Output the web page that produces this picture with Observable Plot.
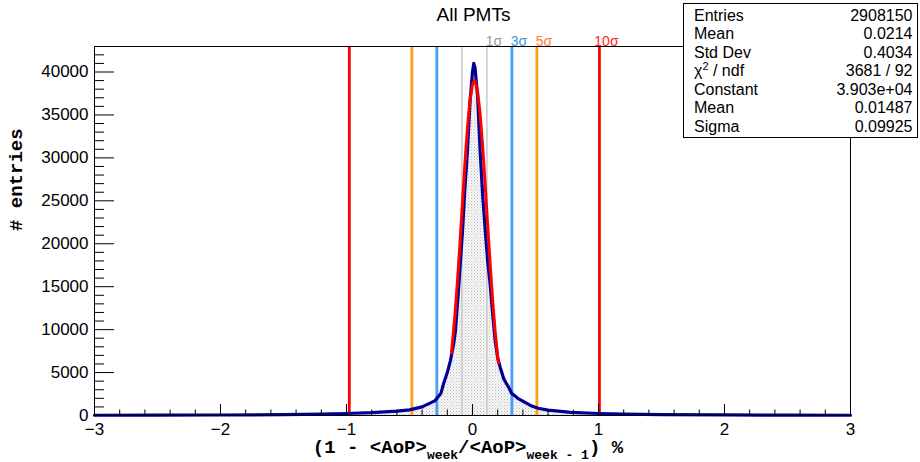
<!DOCTYPE html>
<html><head><meta charset="utf-8">
<script src="https://cdn.jsdelivr.net/npm/d3@7"></script>
<script src="https://cdn.jsdelivr.net/npm/@observablehq/plot@0.6"></script>
<style>body{margin:0;background:#fff}</style>
</head><body><div id="chart"></div>
<script>
// ---- data ----
const histX = [-3.0,-2.5,-2.0,-1.5,-1.2,-1.0,-0.8,-0.6,-0.5,-0.4,-0.3,-0.25,-0.23,-0.2,-0.175,-0.15,-0.135,-0.11,-0.08,-0.06,-0.04,-0.02,0.0,0.01,0.02,0.04,0.06,0.08,0.10,0.12,0.14,0.16,0.18,0.20,0.22,0.25,0.29,0.31,0.36,0.46,0.52,0.6,0.78,1.0,1.2,1.5,2.0,2.5,3.0];
const histCounts = [30,40,60,100,160,230,330,500,650,1000,1700,2600,3700,5000,6400,8300,9900,14900,21300,26500,30800,36500,40000,41000,40500,37300,31000,25800,21800,18000,15300,11800,8700,6700,5600,4200,3200,2600,2000,1170,850,620,360,230,160,110,65,45,30];
const fitX = [-0.167,-0.14,-0.12,-0.10,-0.08,-0.06,-0.04,-0.02,0,0.015,0.02,0.04,0.06,0.08,0.10,0.12,0.14,0.16,0.18,0.20,0.206];
const fitCounts = [7290,11560,15500,19970,24710,29350,33490,36700,38590,39030,38980,37800,35190,31470,27010,22270,17630,13400,9780,6860,6110];
const fitMean = 0.01487, fitSigma = 0.09925;
const sigmaLevels = [1,3,5,10];
const sigmaNames = ["1σ","3σ","5σ","10σ"];
const statsLabels = ["Entries","Mean","Std Dev","χ2 / ndf","Constant","Mean","Sigma"];
const statsValues = ["2908150","0.0214","0.4034","3681 / 92","3.903e+04","0.01487","0.09925"];
const xTicks = [-3,-2,-1,0,1,2,3];
const yTicks = [0,5000,10000,15000,20000,25000,30000,35000,40000];
const titleText = "All PMTs";
const yTitle = "# entries";

// ---- styling ----
const W = 920, H = 462, mL = 94, mR = 70, mT = 46, mB = 47;
const fw = W - mL - mR, fh = H - mT - mB;
const lineColors = ["#c8c8c8", "#46a0f8", "#ff9d1c", "#ff0000"];
const lineWidths = [1.5, 2.8, 2.8, 2.8];
const labelColors = ["#999999", "#3d98e0", "#ff7a4a", "#ff2418"];
const mono = "'Liberation Mono', 'DejaVu Sans Mono', monospace";
const sans = "'Liberation Sans', Arial, Helvetica, sans-serif";

const hist = histX.map((x, i) => ({x, y: histCounts[i]}));
const fit = fitX.map((x, i) => ({x, y: fitCounts[i]}));
const xMinor = d3.range(-30, 31, 2).filter(v => v % 10 !== 0).map(v => v / 10);
const yMinor = d3.range(1000, 43000, 1000).filter(v => v % 5000 !== 0);

const ruleMarks = sigmaLevels.map((n, i) =>
  Plot.ruleX([fitMean - n * fitSigma, fitMean + n * fitSigma], {x: d => d, stroke: lineColors[i], strokeWidth: lineWidths[i]}));
const sigmaLabelData = sigmaLevels.map((n, i) => ({x: fitMean + n * fitSigma, name: sigmaNames[i], color: labelColors[i]}));

const chart = Plot.plot({
  width: W, height: H,
  marginLeft: mL, marginRight: mR, marginTop: mT, marginBottom: mB,
  x: {domain: [-3, 3]},
  y: {domain: [0, 42970]},
  color: {type: "identity"},
  style: {fontFamily: sans, fontSize: "17px", background: "#fff", color: "#000", overflow: "visible"},
  marks: [
    Plot.areaY(hist, {x: "x", y: "y", fill: "url(#dots)"}),
    ...ruleMarks,
    Plot.line(hist, {x: "x", y: "y", stroke: "#000099", strokeWidth: 3.2}),
    Plot.line(fit, {x: "x", y: "y", stroke: "#ff0000", strokeWidth: 3}),
    Plot.tickX(xTicks, {x: d => d, insetTop: fh - 11, stroke: "#000", strokeWidth: 1}),
    Plot.tickX(xMinor, {x: d => d, insetTop: fh - 5.5, stroke: "#000", strokeWidth: 1}),
    Plot.tickY(yTicks, {y: d => d, insetRight: fw - 20, stroke: "#000", strokeWidth: 1}),
    Plot.tickY(yMinor, {y: d => d, insetRight: fw - 10, stroke: "#000", strokeWidth: 1}),
    Plot.axisX({ticks: xTicks, tickSize: 0, tickPadding: 7, label: null,
      tickFormat: d => d < 0 ? "\u2212" + (-d) : String(d)}),
    Plot.axisY({ticks: yTicks, tickSize: 0, tickPadding: 6, label: null, tickFormat: d => String(d)}),
    Plot.frame({stroke: "#000", strokeWidth: 1}),
    Plot.text(sigmaLabelData, {x: "x", text: "name", fill: "color", frameAnchor: "top", lineAnchor: "bottom",
      dy: -1, dx: 7, textAnchor: "middle", fontSize: 14}),
    Plot.text([titleText], {frameAnchor: "top", dy: -32, dx: 1, lineAnchor: "middle", fontSize: 19}),
    Plot.text([yTitle], {frameAnchor: "left", dx: -79, rotate: -90, lineAnchor: "middle",
      fontFamily: mono, fontWeight: "bold", fontSize: 19})
  ]
});
document.getElementById("chart").append(chart);

const svg = d3.select(chart);
// dotted fill pattern
const defs = svg.insert("defs", ":first-child");
const pat = defs.append("pattern").attr("id", "dots").attr("patternUnits", "userSpaceOnUse")
  .attr("width", 3).attr("height", 3);
pat.append("rect").attr("width", 3).attr("height", 3).attr("fill", "#f7f7f7");
pat.append("rect").attr("x", 0).attr("y", 0).attr("width", 1).attr("height", 1).attr("fill", "#bdbdbd");
pat.append("rect").attr("x", 1.5).attr("y", 1.5).attr("width", 1).attr("height", 1).attr("fill", "#d2d2d2");

// x-axis title with subscripts
const xt = svg.append("text").attr("x", 468).attr("y", 453).attr("text-anchor", "middle")
  .attr("font-family", mono).attr("font-weight", "bold").attr("font-size", 19).attr("fill", "#000");
xt.append("tspan").text("(1 - <AoP>");
xt.append("tspan").attr("font-size", 13).attr("dy", 6).text("week");
xt.append("tspan").attr("dy", -6).text("/<AoP>");
xt.append("tspan").attr("font-size", 13).attr("dy", 6).text("week - 1");
xt.append("tspan").attr("dy", -6).text(") %");

// statistics box
const bx = 683.5, by = 3.5, bw = 234, bh = 134;
const g = svg.append("g").attr("font-family", sans).attr("font-size", 16).attr("fill", "#000");
g.append("rect").attr("x", bx).attr("y", by).attr("width", bw).attr("height", bh)
  .attr("fill", "#fff").attr("stroke", "#000").attr("stroke-width", 1);
const rowH = 18.5;
statsLabels.forEach((lab, i) => {
  const y = 15 + i * rowH;
  const t = g.append("text").attr("x", bx + 10.5).attr("y", y).attr("dy", "0.36em").attr("text-anchor", "start");
  if (lab.startsWith("χ2")) {
    t.append("tspan").text("χ");
    t.append("tspan").attr("font-size", 11).attr("dy", -6).text("2");
    t.append("tspan").attr("dy", 6).text(" / ndf");
  } else t.text(lab);
  g.append("text").attr("x", bx + bw - 5).attr("y", y).attr("dy", "0.36em").attr("text-anchor", "end").text(statsValues[i]);
});
</script>
</body></html>
